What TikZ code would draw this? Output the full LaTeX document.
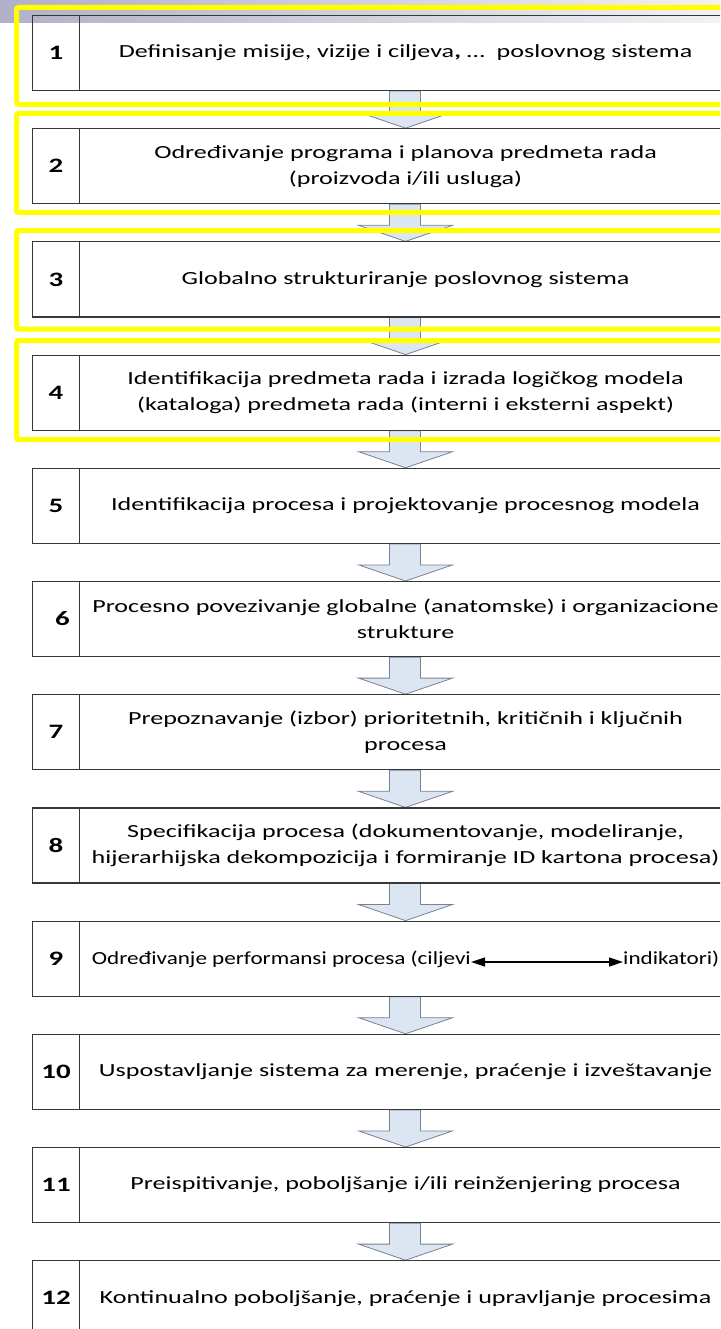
\documentclass[tikz,border=0pt]{standalone}
\usepackage{fontspec}
\setmainfont{Carlito}[FakeStretch=1.41]
\newfontfamily\rowninefont{Carlito}[FakeStretch=1.25]
\usetikzlibrary{calc,arrows.meta}
\definecolor{framey}{RGB}{255,255,0}
\definecolor{arrfill}{RGB}{220,230,242}
\definecolor{arrline}{RGB}{120,130,148}
\definecolor{boxline}{RGB}{55,55,55}
\definecolor{bandl}{RGB}{176,176,200}
\definecolor{bandr}{RGB}{242,242,244}
\pgfdeclarelayer{background}
\pgfsetlayers{background,main}
\newcommand\mkrow[4]{%
  \node[numbox] (n#1) at (32,#2) {#3};
  \node[txtbox] (t#1) at (79,#2) {#4};}
\newcommand\mkarrow[2]{%
  \draw[blockarr] ($(t#1.south)+(-16,0)$) -- ++(0,21) -- ++(-31,0) -- (t#2.north)
     -- ($(t#1.south)+(47,21)$) -- ++(-32,0) -- ++(0,-21) -- cycle;}
\begin{document}
\begin{tikzpicture}[x=1pt,y=-1pt,
  numbox/.style={draw=boxline,line width=1.1pt,minimum width=47pt,minimum height=75pt,
    inner sep=0pt,font=\fontsize{20.5}{22}\selectfont\bfseries,anchor=north west},
  txtbox/.style={draw=boxline,line width=1.1pt,minimum width=652pt,minimum height=75pt,
    inner sep=0pt,align=center,font=\fontsize{18.5}{26}\selectfont,anchor=north west},
  plaintxt/.style={inner sep=0pt,font=\rowninefont\fontsize{18.5}{26}\selectfont},
  blockarr/.style={fill=arrfill,draw=arrline,line width=0.8pt,line join=miter},
  yframe/.style={draw=framey,line width=5pt,rounded corners=2pt},
  dblarrow/.style={{Triangle[length=14pt,width=9pt]}-{Triangle[length=14pt,width=9pt]},line width=1.2pt,black}]
\clip (0,0) rectangle (720,1329);
\useasboundingbox (0,0) rectangle (720,1329);
\begin{pgfonlayer}{background}
  \fill[left color=bandl,right color=bandr] (0,0) rectangle (720,23);
\end{pgfonlayer}
\mkrow{1}{15}{1}{Definisanje misije, vizije i ciljeva\textbf{,} …\ \ poslovnog sistema}
\mkrow{2}{128.2}{2}{Određivanje programa i planova predmeta rada\\(proizvoda i/ili usluga)}
\mkrow{3}{241.4}{3}{Globalno strukturiranje poslovnog sistema}
\mkrow{4}{354.6}{4}{Identifikacija predmeta rada i izrada logičkog modela\\(kataloga) predmeta rada (interni i eksterni aspekt)}
\mkrow{5}{467.8}{5}{Identifikacija procesa i projektovanje procesnog modela}
\mkrow{6}{581}{\hspace*{13pt}6}{Procesno povezivanje globalne (anatomske) i organizacione\\strukture}
\mkrow{7}{694.2}{7}{Prepoznavanje (izbor) prioritetnih, kritičnih i ključnih\\procesa}
\mkrow{8}{807.4}{8}{Specifikacija procesa (dokumentovanje, modeliranje,\\hijerarhijska dekompozicija i formiranje ID kartona procesa)}
\mkrow{9}{920.6}{9}{}
\mkrow{10}{1033.8}{10}{Uspostavljanje sistema za merenje, praćenje i izveštavanje}
\mkrow{11}{1147}{11}{Preispitivanje, poboljšanje i/ili reinženjering procesa}
\mkrow{12}{1260.2}{12}{Kontinualno poboljšanje, praćenje i upravljanje procesima}
\node[plaintxt,anchor=mid east] (t9a) at (471,962) {Određivanje performansi procesa (ciljevi};
\node[plaintxt,anchor=mid west] (t9b) at (623,962) {indikatori)};
\draw[dblarrow] (t9a.mid east) -- (t9b.mid west);
\begin{pgfonlayer}{background}
  \mkarrow{1}{2}\mkarrow{2}{3}\mkarrow{3}{4}\mkarrow{4}{5}\mkarrow{5}{6}\mkarrow{6}{7}
  \mkarrow{7}{8}\mkarrow{8}{9}\mkarrow{9}{10}\mkarrow{10}{11}\mkarrow{11}{12}
\end{pgfonlayer}
\draw[yframe] (16.5,7.5) rectangle (760,104.5);
\draw[yframe] (16.5,113.5) rectangle (760,212.5);
\draw[yframe] (16.5,230.5) rectangle (760,329);
\draw[yframe] (16.5,340.5) rectangle (760,439.5);
\end{tikzpicture}
\end{document}
